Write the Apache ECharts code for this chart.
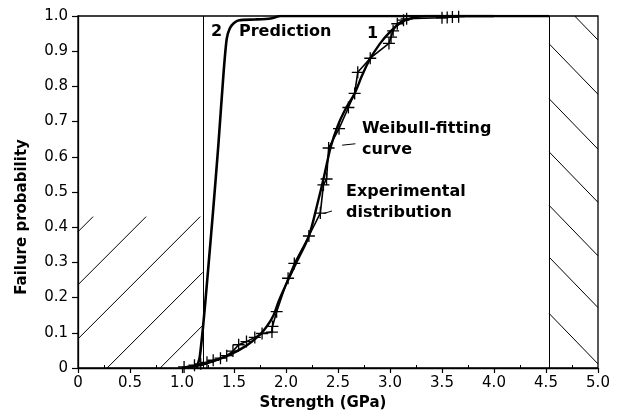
<!DOCTYPE html>
<html>
<head>
<meta charset="utf-8">
<script src="https://cdn.jsdelivr.net/npm/echarts@6/dist/echarts.min.js"></script>
<style>
  html, body { margin: 0; padding: 0; background: #fff; }
  #chart { width: 621px; height: 420px; }
</style>
</head>
<body>
<div id="chart"></div>
<script>
// Tick labels
const xTickLabels = ['0', '0.5', '1.0', '1.5', '2.0', '2.5', '3.0', '3.5', '4.0', '4.5', '5.0'];
const yTickLabels = ['0', '0.1', '0.2', '0.3', '0.4', '0.5', '0.6', '0.7', '0.8', '0.9', '1.0'];

// Curve 2: predicted failure probability
const predX = [1.14, 1.17, 1.20, 1.225, 1.26, 1.30, 1.35, 1.40, 1.43, 1.46, 1.50, 1.55, 1.70, 1.85, 1.95, 4.53];
const predY = [0.0, 0.03, 0.11, 0.19, 0.31, 0.45, 0.635, 0.84, 0.935, 0.965, 0.98, 0.988, 0.99, 0.993, 1.0, 1.0];

// Curve 1: Weibull-fitting curve
const weibX = [1.0, 1.2, 1.4, 1.6, 1.75, 1.82, 1.88, 1.93, 2.02, 2.10, 2.22, 2.31, 2.37, 2.43, 2.50, 2.58, 2.66, 2.73, 2.80, 2.90, 3.00, 3.10, 3.20, 3.35, 4.0];
const weibY = [0.0, 0.01, 0.03, 0.06, 0.095, 0.12, 0.15, 0.19, 0.25, 0.30, 0.375, 0.476, 0.55, 0.628, 0.69, 0.74, 0.78, 0.83, 0.874, 0.92, 0.955, 0.98, 0.993, 1.0, 1.0];

// Experimental distribution (measured specimens)
const expX = [1.02, 1.12, 1.18, 1.24, 1.30, 1.37, 1.43, 1.49, 1.545, 1.62, 1.70, 1.77, 1.865, 1.87, 1.91, 2.02, 2.08, 2.22, 2.33, 2.36, 2.39, 2.41, 2.51, 2.60, 2.66, 2.69, 2.81, 2.99, 3.01, 3.03, 3.07, 3.13, 3.16, 3.50, 3.55, 3.60, 3.66];
const expY = [0.003, 0.008, 0.012, 0.016, 0.022, 0.028, 0.035, 0.048, 0.066, 0.075, 0.087, 0.098, 0.102, 0.118, 0.16, 0.255, 0.297, 0.375, 0.44, 0.52, 0.537, 0.625, 0.68, 0.74, 0.78, 0.84, 0.88, 0.922, 0.94, 0.958, 0.978, 0.988, 0.992, 0.995, 0.996, 0.997, 0.998];

// Hatched zones [xMin, xMax, yMin, yMax]
const lowZone = [0, 1.2, 0, 0.43];
const highZone = [4.53, 5.0, 0, 1.0];
// Low zone hatch: y = slope * (x - x0)
const lowHatchX0 = [-1.31, -0.80, -0.28, 0.28, 0.79];
const lowHatchSlope = 0.2955;
// High zone hatch: y = y0 + slope * (x - 4.53)
const highHatchY0 = [1.075, 0.921, 0.765, 0.614, 0.462, 0.315, 0.155];
const highHatchSlope = -0.305;

// Zone boundaries (vertical lines)
const boundaryX = [1.2, 4.53];

// Annotation leader lines
const leaderLines = [
  [[2.54, 0.633], [2.667, 0.637]],
  [[2.362, 0.439], [2.442, 0.446]]
];

function zip(xs, ys) { return xs.map((x, i) => [x, ys[i]]); }

// Clip the line y = a + b*x to a rectangle
function clipLine(a, b, zone) {
  const [x0, x1, y0, y1] = zone;
  let lo = x0, hi = x1;
  const xa = (y0 - a) / b, xb = (y1 - a) / b;
  lo = Math.max(lo, Math.min(xa, xb));
  hi = Math.min(hi, Math.max(xa, xb));
  if (hi <= lo) return null;
  return [[lo, a + b * lo], [hi, a + b * hi]];
}

const hatchSegs = [];
lowHatchX0.forEach(x0 => {
  const s = clipLine(-lowHatchSlope * x0, lowHatchSlope, lowZone);
  if (s) hatchSegs.push({ coords: s });
});
highHatchY0.forEach(y0 => {
  const s = clipLine(y0 - highHatchSlope * highZone[0], highHatchSlope, highZone);
  if (s) hatchSegs.push({ coords: s });
});
boundaryX.forEach(x => hatchSegs.push({ coords: [[x, 0], [x, 1]] }));

const FONT = 'DejaVu Sans';
const chart = echarts.init(document.getElementById('chart'), null, { renderer: 'canvas' });

const annot = (text, x, y) => ({
  type: 'text', left: x, top: y - 9,
  style: { text, fill: '#000', font: 'bold 16px "DejaVu Sans"' }
});

chart.setOption({
  animation: false,
  backgroundColor: '#fff',
  grid: { left: 78, right: 23, top: 16, bottom: 52, show: true, borderColor: '#000', borderWidth: 1.3 },
  xAxis: {
    type: 'value', min: 0, max: 5, interval: 0.5,
    name: 'Strength (GPa)', nameLocation: 'middle', nameGap: 28,
    nameTextStyle: { fontFamily: FONT, fontSize: 15, fontWeight: 'bold', color: '#000', padding: [0, 30, 0, 0] },
    axisLine: { lineStyle: { color: '#000', width: 1.3 } },
    axisTick: { length: 5, lineStyle: { color: '#000', width: 1.2 } },
    minorTick: { show: true, splitNumber: 2, length: -3, lineStyle: { color: '#000', width: 1 } },
    splitLine: { show: false },
    axisLabel: {
      margin: 8, fontFamily: FONT, fontSize: 15, color: '#000',
      formatter: v => xTickLabels[Math.round(v / 0.5)]
    }
  },
  yAxis: {
    type: 'value', min: 0, max: 1, interval: 0.1,
    name: 'Failure probability', nameLocation: 'middle', nameGap: 48,
    nameTextStyle: { fontFamily: FONT, fontSize: 15, fontWeight: 'bold', color: '#000', padding: [0, 50, 0, 0] },
    axisLine: { show: true, lineStyle: { color: '#000', width: 1.3 } },
    axisTick: { show: true, length: 6, lineStyle: { color: '#000', width: 1.2 } },
    splitLine: { show: false },
    axisLabel: {
      margin: 10, fontFamily: FONT, fontSize: 15, color: '#000',
      formatter: v => yTickLabels[Math.round(v / 0.1)]
    }
  },
  graphic: [
    annot('2', 211, 33),
    annot('Prediction', 239, 33),
    annot('1', 367, 35),
    annot('Weibull-fitting', 362, 130),
    annot('curve', 362, 151),
    annot('Experimental', 346, 193),
    annot('distribution', 346, 214)
  ],
  series: [
    {
      name: 'hatch', type: 'lines', coordinateSystem: 'cartesian2d', z: 1,
      lineStyle: { color: '#000', width: 1, opacity: 1 },
      data: hatchSegs, silent: true
    },
    {
      name: 'leaders', type: 'lines', coordinateSystem: 'cartesian2d', z: 1,
      lineStyle: { color: '#000', width: 1, opacity: 1 },
      data: leaderLines.map(c => ({ coords: c })), silent: true
    },
    {
      name: 'Prediction', type: 'line', data: zip(predX, predY), smooth: 0.2,
      showSymbol: false, lineStyle: { color: '#000', width: 2.6 }, z: 3
    },
    {
      name: 'Weibull-fitting curve', type: 'line', data: zip(weibX, weibY), smooth: 0.3,
      showSymbol: false, lineStyle: { color: '#000', width: 2.4 }, z: 3
    },
    {
      name: 'Experimental distribution', type: 'line', data: zip(expX, expY),
      symbol: 'path://M0,6H12M6,0V12', symbolSize: 12, showAllSymbol: true,
      itemStyle: { color: 'none', borderColor: '#000', borderWidth: 1.3 },
      lineStyle: { color: '#000', width: 1.6 }, z: 4
    }
  ]
});
</script>
</body>
</html>
